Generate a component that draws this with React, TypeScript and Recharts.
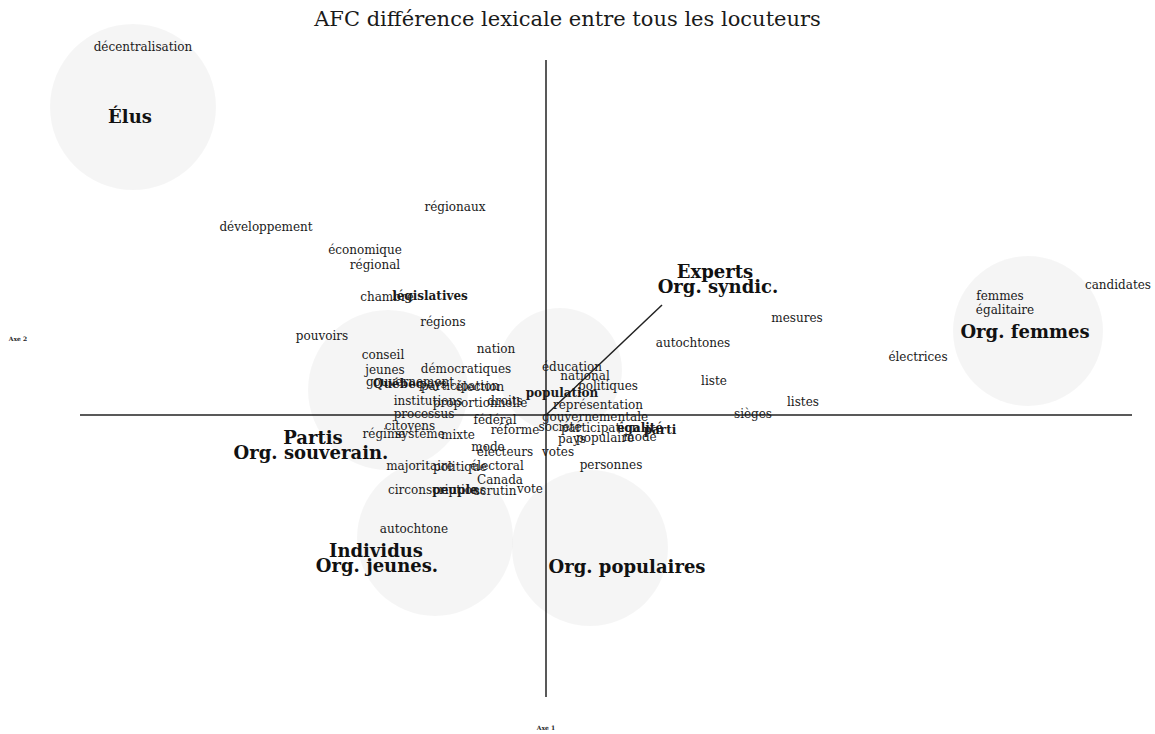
import { ScatterChart, Scatter, XAxis, YAxis, ReferenceLine } from "recharts"

const WIDTH = 1155
const HEIGHT = 734
const X_MIN = -2.184
const X_MAX = 2.436
const Y_MIN = -1.276
const Y_MAX = 1.66
const PX_PER_UNIT = WIDTH / (X_MAX - X_MIN)

// words (colonnes de l'AFC)
const wordLabels = [
  "décentralisation", "régionaux", "développement", "économique", "régional",
  "chambre", "législatives", "régions", "pouvoirs", "nation", "conseil", "jeunes",
  "démocratiques", "gouvernement", "Québec", "pays", "participation", "élection",
  "institutions", "proportionnelle", "droits", "processus", "citoyens", "fédéral",
  "régime", "système", "mixte", "réforme", "mode", "électeurs", "votes",
  "majoritaire", "politique", "électoral", "Canada", "circonscriptions", "peuple",
  "scrutin", "vote", "autochtone", "éducation", "national", "politiques",
  "population", "représentation", "gouvernementale", "société", "participation",
  "égalité", "parti", "pays", "populaire", "mode", "personnes", "autochtones",
  "mesures", "liste", "listes", "sièges", "électrices", "femmes", "égalitaire",
  "candidates",
]
const wordX = [
  -1.612, -0.364, -1.12, -0.724, -0.684,
  -0.636, -0.464, -0.412, -0.896, -0.2, -0.652, -0.644,
  -0.32, -0.544, -0.592, -0.452, -0.344, -0.264,
  -0.472, -0.264, -0.164, -0.488, -0.544, -0.204,
  -0.648, -0.504, -0.352, -0.124, -0.232, -0.164, 0.048,
  -0.504, -0.344, -0.196, -0.184, -0.436, -0.364,
  -0.204, -0.064, -0.528, 0.104, 0.156, 0.248,
  0.064, 0.208, 0.196, 0.056, 0.216,
  0.376, 0.456, 0.104, 0.236, 0.376, 0.26, 0.588,
  1.004, 0.672, 1.028, 0.828, 1.488, 1.816, 1.836,
  2.288,
]
const wordY = [
  1.472, 0.832, 0.752, 0.66, 0.6,
  0.472, 0.476, 0.372, 0.316, 0.264, 0.24, 0.18,
  0.184, 0.132, 0.124, 0.124, 0.116, 0.112,
  0.056, 0.048, 0.056, 0.004, -0.044, -0.02,
  -0.076, -0.076, -0.08, -0.06, -0.128, -0.148, -0.148,
  -0.204, -0.208, -0.204, -0.26, -0.3, -0.3,
  -0.304, -0.296, -0.456, 0.192, 0.156, 0.116,
  0.088, 0.04, -0.008, -0.048, -0.052,
  -0.052, -0.06, -0.096, -0.092, -0.088, -0.2, 0.288,
  0.388, 0.136, 0.052, 0.004, 0.232, 0.476, 0.42,
  0.52,
]
const wordBold = ["législatives", "Québec", "population", "égalité", "parti", "peuple"]

// locuteurs (lignes de l'AFC)
const groupLabels = [
  "Élus", "Experts", "Org. syndic.", "Org. femmes", "Partis", "Org. souverain.",
  "Individus", "Org. jeunes.", "Org. populaires",
]
const groupX = [-1.664, 0.676, 0.688, 1.916, -0.932, -0.94, -0.68, -0.676, 0.324]
const groupY = [1.196, 0.576, 0.516, 0.336, -0.088, -0.148, -0.54, -0.6, -0.604]

// cercles de regroupement
const circleX = [-1.652, 1.928, 0.056, -0.632, -0.444, 0.176]
const circleY = [1.232, 0.336, 0.18, 0.1, -0.492, -0.532]
const circleR = [0.332, 0.3, 0.248, 0.32, 0.312, 0.312]

const axisNames = ["Axe 1", "Axe 2"]
const axisNameX = [0, -2.112]
const axisNameY = [-1.248, 0.308]

const words = wordLabels.map((label, i) => ({ label, x: wordX[i], y: wordY[i], bold: wordBold.includes(label) }))
const groups = groupLabels.map((label, i) => ({ label, x: groupX[i], y: groupY[i] }))
const circles = circleX.map((x, i) => ({ x, y: circleY[i], r: circleR[i] }))
const axisTitles = axisNames.map((label, i) => ({ label, x: axisNameX[i], y: axisNameY[i] }))

const FONT = "'DejaVu Serif', 'Liberation Serif', serif"

// semi-transparent so the axis lines stay visible through the circles
const CircleShape = (props: any) => (
  <circle cx={props.cx} cy={props.cy} r={props.payload.r * PX_PER_UNIT} fill="#000" fillOpacity={0.038} />
)

const WordShape = (props: any) => (
  <text
    x={props.cx}
    y={props.cy}
    textAnchor="middle"
    dominantBaseline="central"
    fontFamily={FONT}
    fontSize={12}
    fontWeight={props.payload.bold ? 700 : 400}
    fill="#1a1a1a"
  >
    {props.payload.label}
  </text>
)

const GroupShape = (props: any) => (
  <text
    x={props.cx}
    y={props.cy}
    textAnchor="middle"
    dominantBaseline="central"
    fontFamily={FONT}
    fontSize={18}
    fontWeight={700}
    fill="#111"
  >
    {props.payload.label}
  </text>
)

const AxisTitleShape = (props: any) => (
  <text
    x={props.cx}
    y={props.cy}
    textAnchor="middle"
    dominantBaseline="central"
    fontFamily={FONT}
    fontSize={6}
    fontWeight={700}
    fill="#222"
  >
    {props.payload.label}
  </text>
)

const App = () => {
  return (
    <div style={{ position: "absolute", left: 0, top: 0, width: WIDTH, height: HEIGHT, background: "#fff" }}>
      <div
        style={{
          position: "absolute",
          top: 7,
          left: 0,
          width: WIDTH - 20,
          textAlign: "center",
          fontFamily: FONT,
          fontSize: 21,
          color: "#1a1a1a",
          zIndex: 1,
        }}
      >
        AFC différence lexicale entre tous les locuteurs
      </div>
      <ScatterChart width={WIDTH} height={HEIGHT} margin={{ top: 0, right: 0, bottom: 0, left: 0 }}>
        <XAxis type="number" dataKey="x" domain={[X_MIN, X_MAX]} hide allowDataOverflow />
        <YAxis type="number" dataKey="y" domain={[Y_MIN, Y_MAX]} hide allowDataOverflow />
        <Scatter data={circles} shape={CircleShape} isAnimationActive={false} />
        <ReferenceLine segment={[{ x: -1.864, y: 0 }, { x: 2.344, y: 0 }]} stroke="#222" strokeWidth={1.5} />
        <ReferenceLine segment={[{ x: 0, y: -1.128 }, { x: 0, y: 1.42 }]} stroke="#222" strokeWidth={1.5} />
        <ReferenceLine segment={[{ x: 0, y: 0 }, { x: 0.464, y: 0.44 }]} stroke="#222" strokeWidth={1.5} />
        <Scatter data={words} shape={WordShape} isAnimationActive={false} />
        <Scatter data={groups} shape={GroupShape} isAnimationActive={false} />
        <Scatter data={axisTitles} shape={AxisTitleShape} isAnimationActive={false} />
      </ScatterChart>
    </div>
  )
}

export default App
